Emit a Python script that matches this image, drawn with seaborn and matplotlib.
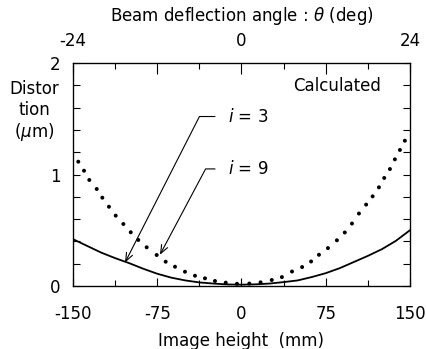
import numpy as np
import pandas as pd
import matplotlib
matplotlib.use("Agg")
import matplotlib.pyplot as plt
import seaborn as sns

# solid curve (i = 3)
solid_x = [-150, -137.5, -125, -112.5, -100, -87.5, -75, -62.5, -50, -37.5, -25, -12.5,
           0, 12.5, 25, 37.5, 50, 62.5, 75, 87.5, 100, 112.5, 125, 137.5, 150]
solid_y = [0.42, 0.36, 0.30, 0.25, 0.205, 0.155, 0.11, 0.075, 0.05, 0.032, 0.022, 0.014,
           0.012, 0.015, 0.022, 0.035, 0.05, 0.08, 0.115, 0.16, 0.215, 0.27, 0.33, 0.405, 0.50]

# dotted curve (i = 9), one entry per dot
dot_x = [-145.3, -140.2, -135.5, -128.9, -123.9, -118.0, -112.0, -105.2, -98.6, -91.9,
         -84.4, -75.5, -67.5, -59.2, -50.3, -41.4, -32.5, -23.6, -14.0, -4.0, 7.0, 17.0,
         27.0, 36.0, 45.0, 54.0, 62.0, 69.0, 77.0, 85.0, 92.0, 98.4, 104.6, 111.0,
         116.8, 122.4, 127.1, 132.2, 136.6, 141.1, 145.5]
dot_y = [1.115, 1.034, 0.951, 0.870, 0.792, 0.711, 0.631, 0.556, 0.482, 0.413,
         0.347, 0.278, 0.218, 0.173, 0.128, 0.092, 0.069, 0.045, 0.030, 0.020, 0.022, 0.033,
         0.054, 0.08, 0.13, 0.17, 0.22, 0.28, 0.34, 0.41, 0.48, 0.56, 0.65, 0.73,
         0.804, 0.885, 0.969, 1.049, 1.136, 1.22, 1.303]

bottom_ticks = [-150, -75, 0, 75, 150]
top_labels = ['-24', '', '0', '', '24']
y_labels = [0, 1, 2]

sns.set_style("ticks")
plt.rcParams['font.family'] = ['DejaVu Sans']
plt.rcParams['text.color'] = 'black'
plt.rcParams['axes.edgecolor'] = 'black'
plt.rcParams['axes.labelcolor'] = 'black'
plt.rcParams['xtick.color'] = 'black'
plt.rcParams['ytick.color'] = 'black'
fs = 12

fig = plt.figure(figsize=(4.27, 3.49), dpi=100)
ax = fig.add_axes([0.171, 0.1805, 0.789, 0.639])

solid = pd.DataFrame({'x': solid_x, 'y': solid_y})
dots = pd.DataFrame({'x': dot_x, 'y': dot_y})
sns.lineplot(data=solid, x='x', y='y', ax=ax, color='black', lw=1.3)
sns.scatterplot(data=dots, x='x', y='y', ax=ax, color='black', s=8, edgecolor='none')

ax.set_xlim(-150, 150)
ax.set_ylim(0, 2)
ax.set_xticks(bottom_ticks)
ax.set_xticklabels([str(t) for t in bottom_ticks], fontsize=fs)
ax.set_xticks([-112.5, -37.5, 37.5, 112.5], minor=True)
ax.set_yticks(y_labels)
ax.set_yticklabels([str(t) for t in y_labels], fontsize=fs)
ax.set_yticks(np.arange(0, 2.01, 0.2), minor=True)
ax.tick_params(which='both', direction='in', right=True, width=0.8)
ax.tick_params(axis='x', which='major', length=6, pad=14)
ax.tick_params(axis='x', which='minor', length=4)
ax.tick_params(axis='y', which='both', length=5, pad=9)
ax.set_xlabel('Image height  (mm)', fontsize=fs, labelpad=6)
ax.set_ylabel('')
for s in ax.spines.values():
    s.set_linewidth(0.9)

top = ax.twiny()
top.set_xlim(ax.get_xlim())
top.set_xticks(bottom_ticks)
top.set_xticklabels(top_labels, fontsize=fs)
top.set_xticks([-112.5, -37.5, 37.5, 112.5], minor=True)
top.tick_params(which='both', direction='in', width=0.8)
top.tick_params(which='major', length=8, pad=9)
top.tick_params(which='minor', length=4)
top.set_xlabel('Beam deflection angle : $\\theta$ (deg)', fontsize=fs, labelpad=8)

fig.text(0.08, 0.68, 'Distor\ntion\n($\\mu$m)', ha='center', va='center',
         fontsize=fs, linespacing=1.15)

ax.text(85, 1.79, 'Calculated', ha='center', va='center', fontsize=fs)

arrow = dict(arrowstyle='->,head_length=0.5,head_width=0.2', color='black', lw=0.8,
             relpos=(0, 0.5), shrinkA=7, shrinkB=0)
ax.annotate('$i$ = 3', xy=(-103.7, 0.21), xytext=(-12, 1.52), fontsize=fs, va='center',
            arrowprops=dict(arrow, connectionstyle='angle,angleA=0,angleB=63,rad=0'))
ax.annotate('$i$ = 9', xy=(-72.6, 0.28), xytext=(-12, 1.05), fontsize=fs, va='center',
            arrowprops=dict(arrow, connectionstyle='angle,angleA=0,angleB=62,rad=0'))

fig.savefig('out.png', dpi=100)
